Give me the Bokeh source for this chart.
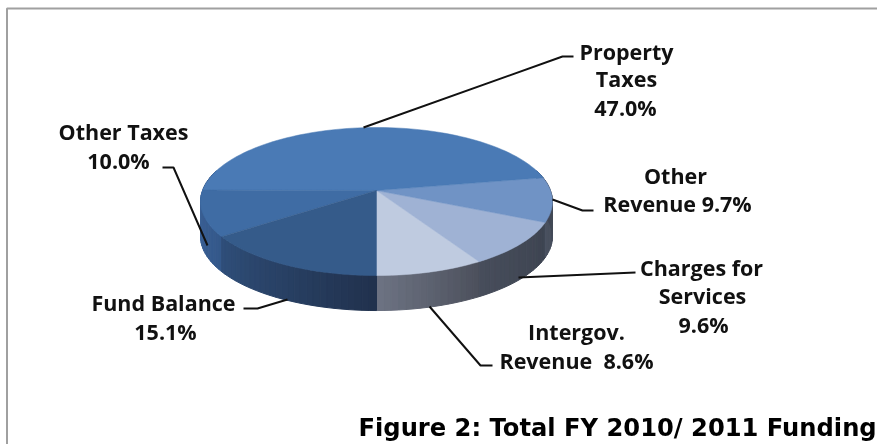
import math
from bokeh.plotting import figure
from bokeh.embed import file_html
from bokeh.resources import INLINE
from bokeh.core.properties import value

# data
categories = ["Intergov. Revenue", "Charges for Services", "Other Revenue", "Property Taxes", "Other Taxes", "Fund Balance"]
shares = [8.6, 9.6, 9.7, 47.0, 10.0, 15.1]

# style
top_colors = ["#bfcbe0", "#9fb2d4", "#7093c5", "#4a7ab5", "#3f6ca4", "#355b8a"]
wall_from = ["#6c7282", "#474d5b", "#4a5160", "#2f4e7a", "#3f659b", "#2f4e79"]
wall_to = ["#4d515d", "#3d4451", "#3e4552", "#2f4e7a", "#34588a", "#21324e"]

# page geometry (pixels of the picture)
W, H = 877, 444
OX, OY = 0, 0
CX, CY, A, B, K, DEPTH = 376, 190, 174, 72.4, 0.1487, 35


def rim(theta_deg):
    t = math.radians(theta_deg)
    u, v = math.sin(t), math.cos(t)
    d = 1 - K * v
    return CX + A * u / d, CY + B * v / d


def mix(c1, c2, f):
    a = [int(c1[i:i + 2], 16) for i in (1, 3, 5)]
    b = [int(c2[i:i + 2], 16) for i in (1, 3, 5)]
    return "#%02x%02x%02x" % tuple(round(x + (y - x) * f) for x, y in zip(a, b))


p = figure(width=W, height=H, output_backend="svg", toolbar_location=None,
           x_range=(OX, OX + W), y_range=(OY + H, OY), min_border=0,
           x_axis_type=None, y_axis_type=None, outline_line_color=None)
p.styles = {"position": "fixed", "left": "0px", "top": "0px"}
p.grid.visible = False

# frame
p.line([6.5, 6.5, OX + W], [OY + H, 8, 8], line_color="#a0a0a0", line_width=2)

# walls and tops from the cumulative shares
start = 0.0
wx, wy, wc, tx, ty = [], [], [], [], []
for i, s in enumerate(shares):
    sweep = s * 3.6
    n = max(2, int(sweep / 2))
    angles = [start + sweep * j / n for j in range(n + 1)]
    for j in range(n):
        # the back of the rim is hidden behind the top of the pie
        if math.cos(math.radians(angles[j])) < -0.25 and math.cos(math.radians(angles[j + 1])) < -0.25:
            continue
        x0, y0 = rim(angles[j])
        x1, y1 = rim(angles[j + 1])
        wx.append([x0, x1, x1, x0])
        wy.append([y0, y1, y1 + DEPTH, y0 + DEPTH])
        wc.append(mix(wall_from[i], wall_to[i], j / max(1, n - 1)))
    pts = [rim(a) for a in angles]
    tx.append([CX] + [q[0] for q in pts])
    ty.append([CY] + [q[1] for q in pts])
    start += sweep

p.patches(wx, wy, fill_color=wc, line_color=wc, line_width=1)
p.patches(tx, ty, fill_color=top_colors, line_color=top_colors, line_width=0.5)

# leaders
leaders = [
    ([363, 562, 573], [127, 56, 56]),
    ([552, 582, 593], [199, 210, 210]),
    ([518, 635], [277, 272]),
    ([429, 480, 492], [306, 365, 365]),
    ([243, 257, 287], [308, 308, 299]),
    ([207, 173, 162], [245, 167, 167]),
]
for lx, ly in leaders:
    p.line(lx, ly, line_color="#111111", line_width=2)

# labels
label_lines = [
    ("Property", 626, 51), ("Taxes", 626, 78), ("47.0%", 625, 107),
    ("Other", 675, 175), ("Revenue 9.7%", 677, 203),
    ("Charges for", 701, 267), ("Services", 702, 295), ("9.6%", 703, 324),
    ("Intergov.", 576, 331), ("Revenue\u00a0\u00a08.6%", 576, 360),
    ("Fund Balance", 163, 302), ("15.1%", 165, 331),
    ("Other Taxes", 123, 131), ("10.0%", 118, 160),
]
p.text([q[1] for q in label_lines], [q[2] for q in label_lines], text=[q[0] for q in label_lines],
       text_font=value("Open Sans"), text_font_style="bold", text_font_size="21.5px",
       text_align="center", text_baseline="middle", text_color="#111111")

p.text([358], [427], text=["Figure 2: Total FY 2010/ 2011 Funding"],
       text_font=value("DejaVu Sans"), text_font_style="bold", text_font_size="24.2px",
       text_align="left", text_baseline="middle", text_color="#000000")

open("out.html", "w").write(file_html(p, INLINE))
